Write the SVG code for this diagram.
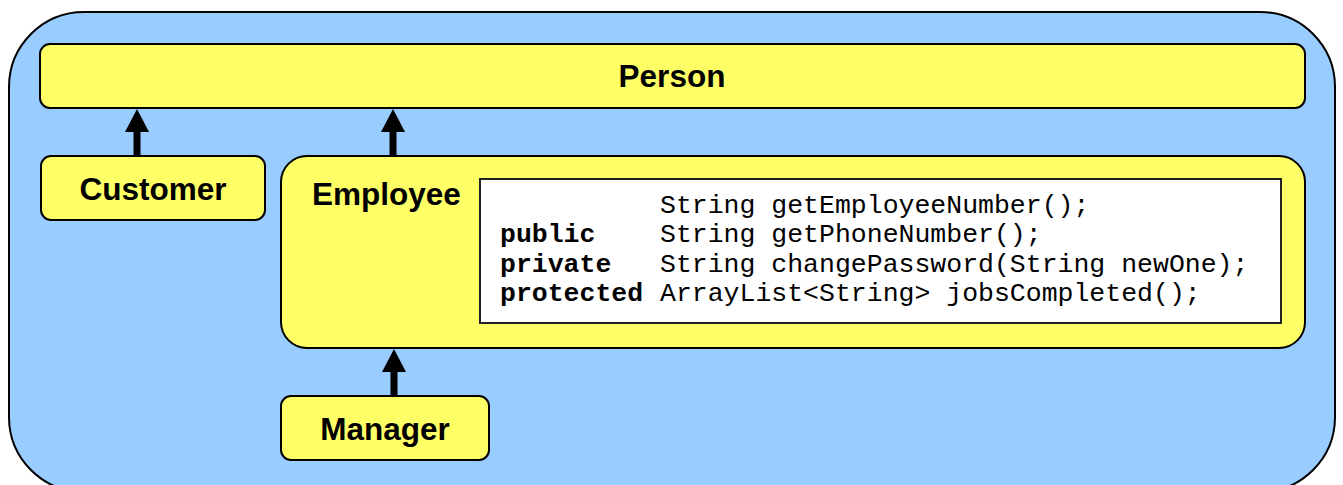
<svg xmlns="http://www.w3.org/2000/svg" width="1343" height="485" viewBox="0 0 1343 485">
<style>
.cont{fill:#99CCFF;stroke:#000;stroke-width:2}
.node{fill:#FFFF66;stroke:#000;stroke-width:2}
.lbl{font-family:"Liberation Sans",Arial,sans-serif;font-weight:bold;font-size:31.5px;fill:#000}
.code{font-family:"Liberation Mono","Courier New",monospace;font-size:26.5px;fill:#000}
.kw{font-weight:bold}
.conn{stroke:#000;stroke-width:7;fill:none}
</style>
<g id="container">
<rect class="cont" x="9" y="12" width="1326" height="480" rx="75" ry="75"/>
</g>
<g id="person">
<rect class="node" x="40" y="44" width="1265" height="64" rx="10" ry="10"/>
<text class="lbl" x="672" y="87" text-anchor="middle">Person</text>
</g>
<g id="customer">
<rect class="node" x="41" y="156" width="224" height="64" rx="10" ry="10"/>
<text class="lbl" x="153" y="200" text-anchor="middle">Customer</text>
</g>
<g id="employee">
<rect class="node" x="281" y="156" width="1024" height="192" rx="26" ry="26"/>
<text class="lbl" x="312" y="205">Employee</text>
<rect x="480" y="179" width="801" height="144" fill="#FFFFFF" stroke="#222" stroke-width="2"/>
<text class="code" x="660" y="213">String getEmployeeNumber();</text>
<text class="code kw" x="500" y="242">public</text>
<text class="code" x="660" y="242">String getPhoneNumber();</text>
<text class="code kw" x="500" y="272">private</text>
<text class="code" x="660" y="272">String changePassword(String newOne);</text>
<text class="code kw" x="500" y="301">protected</text>
<text class="code" x="660" y="301">ArrayList&lt;String&gt; jobsCompleted();</text>
</g>
<g id="manager">
<rect class="node" x="281" y="396" width="208" height="64" rx="10" ry="10"/>
<text class="lbl" x="385" y="440" text-anchor="middle">Manager</text>
</g>
<g id="connectors">
<line class="conn" x1="137" y1="156" x2="137" y2="122" />
<path d="M137 109 L149 132 L125 132 Z" fill="#000"/>
<line class="conn" x1="393" y1="156" x2="393" y2="122" />
<path d="M393 109 L405 132 L381 132 Z" fill="#000"/>
<line class="conn" x1="394" y1="396" x2="394" y2="362" />
<path d="M394 349 L406 372 L382 372 Z" fill="#000"/>
</g>
</svg>
